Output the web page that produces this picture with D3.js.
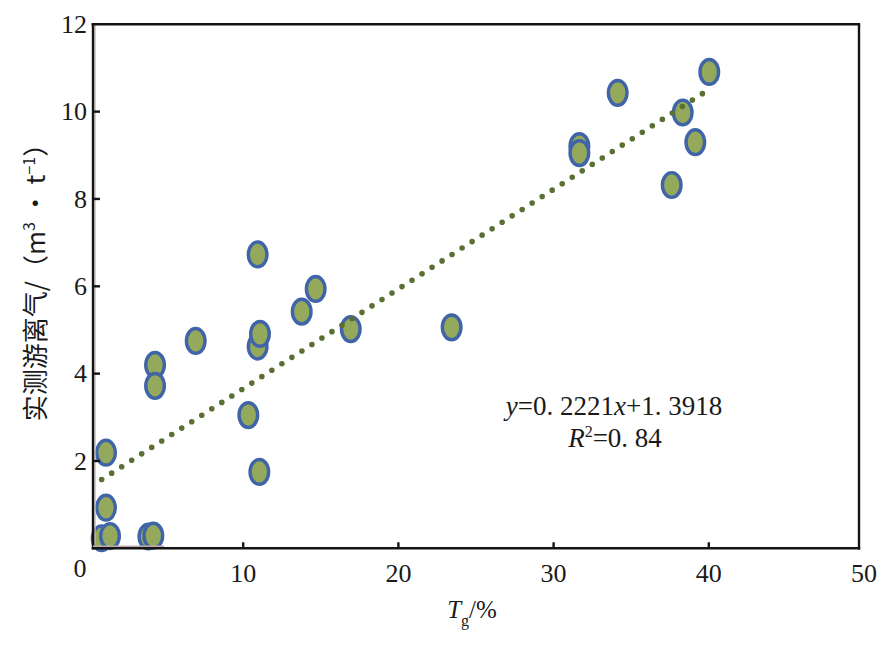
<!DOCTYPE html>
<html>
<head>
<meta charset="utf-8">
<script src="https://cdn.jsdelivr.net/npm/d3@7/dist/d3.min.js"></script>
<style>
  body { margin: 0; background: #fff; }
  svg { display: block; }
</style>
</head>
<body>
<div id="chart"></div>
<script>
const tgValues  = [1.16, 1.16, 0.88, 1.42, 3.89, 4.21, 4.32, 4.32, 6.94, 10.93, 10.93, 11.08, 10.33,
                   11.04, 13.77, 14.67, 16.93, 23.43, 34.13, 31.66, 31.66, 38.32, 40.03, 39.13, 37.61];
const gasValues = [2.19, 0.93, 0.23, 0.28, 0.27, 0.29, 4.20, 3.72, 4.75, 6.73, 4.62, 4.91, 3.05,
                   1.75, 5.42, 5.94, 5.02, 5.06, 10.43, 9.21, 9.05, 9.98, 10.91, 9.30, 8.32];
const xTicks = [10, 20, 30, 40, 50];
const yTicks = [2, 4, 6, 8, 10, 12];
const eqLine1 = ['y', '=0. 2221', 'x', '+1. 3918'];
const eqLine2 = ['R', '2', '=0. 84'];

const W = 886, H = 651;
const NUM_FONT = '"Liberation Serif", "DejaVu Serif", serif';
const CJK_FONT = '"Noto Sans CJK SC", "Noto Sans", sans-serif';

const svg = d3.select('#chart').append('svg')
  .attr('width', W).attr('height', H);
svg.append('rect').attr('width', W).attr('height', H).attr('fill', '#fff');

const x = d3.scaleLinear().domain([0, 50]).range([88, 864]);
const y = d3.scaleLinear().domain([0, 12]).range([548.3, 24.3]);

// plot frame (drawn slightly inside the tick range, as in the source figure)
const fL = x(0) + 5, fR = x(50) - 5, fT = y(12), fB = y(0);

// Points
const pts = tgValues.map((v, i) => ({ x: v, y: gasValues[i] }));
svg.append('g').selectAll('ellipse')
  .data(pts)
  .join('ellipse')
  .attr('cx', d => x(d.x))
  .attr('cy', d => y(d.y))
  .attr('rx', 9.3)
  .attr('ry', 12.4)
  .attr('fill', '#95a95c')
  .attr('stroke', '#3f64a8')
  .attr('stroke-width', 3.4);

// Least squares trendline through the points
const mx = d3.mean(pts, d => d.x), my = d3.mean(pts, d => d.y);
const slope = d3.sum(pts, d => (d.x - mx) * (d.y - my)) / d3.sum(pts, d => (d.x - mx) ** 2);
const icpt = my - slope * mx;
const ext = d3.extent(pts, d => d.x);
svg.append('path')
  .datum(ext)
  .attr('d', d3.line().x(d => x(d)).y(d => y(slope * d + icpt)))
  .attr('fill', 'none')
  .attr('stroke', '#5a6f32')
  .attr('stroke-width', 5.6)
  .attr('stroke-linecap', 'round')
  .attr('stroke-dasharray', '0 11.9');

// Frame
const frame = svg.append('g').attr('stroke', '#141414').attr('stroke-width', 2.4).attr('fill', 'none');
frame.append('line').attr('x1', fL + 2).attr('x2', fL + 2).attr('y1', fT).attr('y2', fB)
  .attr('stroke', '#c4b6b2').attr('stroke-width', 1.4);
frame.append('line').attr('x1', fL - 1.5).attr('x2', fR + 1.2).attr('y1', fT).attr('y2', fT);
frame.append('line').attr('x1', fR).attr('x2', fR).attr('y1', fT).attr('y2', fB + 1.2);
frame.append('line').attr('x1', fL).attr('x2', fL).attr('y1', fT).attr('y2', fB + 1.2);
frame.append('line').attr('x1', fL).attr('x2', x(4.9)).attr('y1', fB - 1.6).attr('y2', fB - 1.6)
  .attr('stroke', '#bcafab').attr('stroke-width', 2.2);
frame.append('line').attr('x1', fL - 1.2).attr('x2', fR + 1.2).attr('y1', fB).attr('y2', fB);

// Inward ticks
frame.selectAll('.xt').data(xTicks.filter(t => t < 50)).join('line')
  .attr('x1', d => x(d)).attr('x2', d => x(d)).attr('y1', fB).attr('y2', fB - 6);
frame.selectAll('.yt').data(yTicks.filter(t => t < 12)).join('line')
  .attr('x1', fL).attr('x2', fL + 7).attr('y1', d => y(d)).attr('y2', d => y(d));

// Tick labels
const lab = svg.append('g').attr('font-family', NUM_FONT).attr('font-size', 26).attr('fill', '#1a1a1a');
lab.selectAll('.xl').data(xTicks).join('text')
  .attr('x', d => x(d)).attr('y', 582)
  .attr('text-anchor', 'middle').text(d => d);
lab.selectAll('.yl').data(yTicks).join('text')
  .attr('x', 87).attr('y', d => y(d)).attr('dy', '0.34em')
  .attr('text-anchor', 'end').text(d => d);
lab.append('text').attr('x', x(0) - 8).attr('y', 577).attr('text-anchor', 'middle').text(0);

// Axis titles
const yt = svg.append('text')
  .attr('transform', 'translate(45,276) rotate(-90)')
  .attr('text-anchor', 'middle')
  .attr('font-family', CJK_FONT).attr('font-size', 26).attr('fill', '#1a1a1a');
yt.append('tspan').text('实测游离气/（m');
yt.append('tspan').attr('font-size', 16).attr('dy', -10).text('3');
yt.append('tspan').attr('dy', 10).text(' • t');
yt.append('tspan').attr('font-size', 16).attr('dy', -10).text('−1');
yt.append('tspan').attr('dy', 10).text('）');

const xt = svg.append('text')
  .attr('x', 472).attr('y', 618).attr('text-anchor', 'middle')
  .attr('font-family', NUM_FONT).attr('font-size', 25).attr('fill', '#1a1a1a');
xt.append('tspan').attr('font-style', 'italic').text('T');
xt.append('tspan').attr('font-size', 16).attr('dy', 8).text('g');
xt.append('tspan').attr('dy', -8).text('/%');

// Regression equation
const eq = svg.append('g').attr('font-family', NUM_FONT).attr('font-size', 27)
  .attr('fill', '#1a1a1a').attr('text-anchor', 'middle');
const e1 = eq.append('text').attr('x', 614).attr('y', 415);
eqLine1.forEach((s, i) => e1.append('tspan').attr('font-style', i % 2 === 0 ? 'italic' : 'normal').text(s));
const e2 = eq.append('text').attr('x', 615).attr('y', 447);
e2.append('tspan').attr('font-style', 'italic').text(eqLine2[0]);
e2.append('tspan').attr('font-size', 16).attr('dy', -10).text(eqLine2[1]);
e2.append('tspan').attr('dy', 10).text(eqLine2[2]);
</script>
</body>
</html>
